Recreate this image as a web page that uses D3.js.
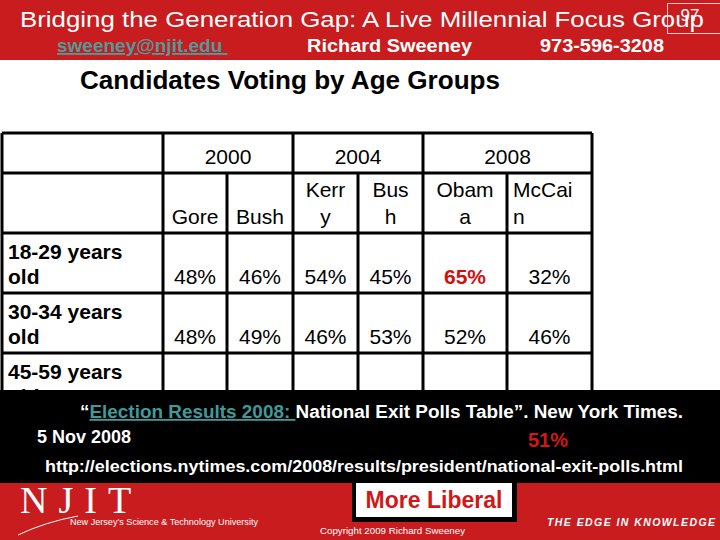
<!DOCTYPE html>
<html><head><meta charset="utf-8">
<script src="https://cdn.jsdelivr.net/npm/d3@7"></script>
<style>body{margin:0;background:#fff}svg{display:block;font-family:"Liberation Sans",Arial,sans-serif}</style>
</head><body>
<script>
// ---- data ----
const years = ["2000", "2004", "2008"];
const candidates = ["Gore", "Bush 2000", "Kerry", "Bush 2004", "Obama", "McCain"];
const candidateYear = ["2000", "2000", "2004", "2004", "2008", "2008"];
const candidateLabels = [["", "Gore"], ["", "Bush"], ["Kerr", "y"], ["Bus", "h"], ["Obam", "a"], ["McCai", "n"]];
const ageGroups = ["18-29 years old", "30-34 years old", "45-59 years old"];
const ageLabels = [["18-29 years", "old"], ["30-34 years", "old"], ["45-59 years", "old"]];
const gore = [48, 48, 48];
const bush2000 = [46, 49, 49];
const kerry = [54, 46, 47];
const bush2004 = [45, 53, 51];
const obama = [65, 52, 50];
const mccain = [32, 46, 49];
const seriesValues = [gore, bush2000, kerry, bush2004, obama, mccain];

// ---- layout ----
const W = 720, H = 540, RED = "#c81c1e";
const svg = d3.select("body").append("svg").attr("width", W).attr("height", H);
svg.append("defs").append("clipPath").attr("id", "tclip")
  .append("rect").attr("x", 0).attr("y", 0).attr("width", W).attr("height", 391);

// header band
svg.append("rect").attr("x", 0).attr("y", 0).attr("width", W).attr("height", 60).attr("fill", RED);
svg.append("text").attr("x", 20).attr("y", 27).attr("fill", "#fff").attr("font-size", 22)
  .attr("textLength", 684).attr("lengthAdjust", "spacingAndGlyphs")
  .text("Bridging the Generation Gap: A Live Millennial Focus Group");
svg.append("rect").attr("x", 667.5).attr("y", 3.5).attr("width", 60).attr("height", 30)
  .attr("fill", "none").attr("stroke", "#f0d0d0").attr("stroke-width", 1);
svg.append("text").attr("x", 690).attr("y", 21).attr("text-anchor", "middle").attr("fill", "#fff")
  .attr("font-size", 17).text("97");
svg.append("text").attr("x", 57).attr("y", 52).attr("fill", "#4f9a9a").attr("font-size", 19)
  .attr("font-weight", "bold").attr("text-decoration", "underline").text("sweeney@njit.edu\u00a0");
svg.append("text").attr("x", 307).attr("y", 52).attr("fill", "#fff").attr("font-size", 19)
  .attr("font-weight", "bold").attr("textLength", 165).attr("lengthAdjust", "spacingAndGlyphs").text("Richard Sweeney");
svg.append("text").attr("x", 540).attr("y", 52).attr("fill", "#fff").attr("font-size", 19)
  .attr("font-weight", "bold").attr("textLength", 124).attr("lengthAdjust", "spacingAndGlyphs").text("973-596-3208");

// title
svg.append("text").attr("x", 80).attr("y", 89).attr("fill", "#000").attr("font-size", 25)
  .attr("font-weight", "bold").attr("textLength", 420).attr("lengthAdjust", "spacingAndGlyphs")
  .text("Candidates Voting by Age Groups");

// ---- table via scales ----
const colLeft = d3.scaleOrdinal().domain(candidates).range([163, 227, 293, 358, 423, 507]);
const colRight = d3.scaleOrdinal().domain(candidates).range([227, 293, 358, 423, 507, 592]);
const yearLeft = d3.scaleOrdinal().domain(years).range([163, 293, 423]);
const yearRight = d3.scaleOrdinal().domain(years).range([293, 423, 592]);
const rowY = d3.scaleBand().domain(ageGroups).range([233, 413]).padding(0);
const tLeft = 2, tRight = 592, hTop = 133, hMid = 173, hBot = 233;
const FS = 21;

const tbl = svg.append("g").attr("clip-path", "url(#tclip)");
// row labels
ageGroups.forEach((g, i) => {
  const y0 = rowY(g);
  tbl.append("text").attr("x", 8).attr("y", y0 + 26).attr("font-size", FS).attr("font-weight", "bold").text(ageLabels[i][0]);
  tbl.append("text").attr("x", 8).attr("y", y0 + 51).attr("font-size", FS).attr("font-weight", "bold").text(ageLabels[i][1]);
});
// year headers
years.forEach(yr => {
  tbl.append("text").attr("x", (yearLeft(yr) + yearRight(yr)) / 2).attr("y", hTop + 31)
    .attr("text-anchor", "middle").attr("font-size", FS).text(yr);
});
// candidate headers
candidates.forEach((c, i) => {
  const last = i === candidates.length - 1;
  const x = last ? colLeft(c) + 6 : (colLeft(c) + colRight(c)) / 2;
  const anchor = last ? "start" : "middle";
  candidateLabels[i].forEach((line, k) => {
    if (!line) return;
    tbl.append("text").attr("x", x).attr("y", hMid + 24 + k * 27).attr("text-anchor", anchor)
      .attr("font-size", FS).text(line);
  });
});
// values
candidates.forEach((c, i) => {
  seriesValues[i].forEach((v, r) => {
    const isHi = c === "Obama" && r === 0;
    tbl.append("text").attr("x", (colLeft(c) + colRight(c)) / 2).attr("y", rowY(ageGroups[r]) + 51)
      .attr("text-anchor", "middle").attr("font-size", FS)
      .attr("font-weight", isHi ? "bold" : "normal")
      .attr("fill", isHi ? "#d01010" : "#000").text(v + "%");
  });
});
// grid lines
const gl = tbl.append("g").attr("stroke", "#000").attr("stroke-width", 3);
const bottom = rowY(ageGroups[ageGroups.length - 1]) + rowY.bandwidth();
[hTop, hMid, hBot].concat(ageGroups.map(g => rowY(g) + rowY.bandwidth())).forEach(y => {
  gl.append("line").attr("x1", tLeft).attr("x2", tRight).attr("y1", y).attr("y2", y);
});
gl.append("line").attr("x1", tLeft).attr("x2", tLeft).attr("y1", hTop).attr("y2", bottom);
years.forEach(yr => gl.append("line").attr("x1", yearLeft(yr)).attr("x2", yearLeft(yr)).attr("y1", hTop).attr("y2", bottom));
gl.append("line").attr("x1", tRight).attr("x2", tRight).attr("y1", hTop).attr("y2", bottom);
candidates.forEach((c, i) => {
  if (i % 2 === 1) gl.append("line").attr("x1", colLeft(c)).attr("x2", colLeft(c)).attr("y1", hMid).attr("y2", bottom);
});

// ---- black citation box ----
svg.append("rect").attr("x", 0).attr("y", 390).attr("width", W).attr("height", 93).attr("fill", "#000");
const cite = svg.append("text").attr("x", 80).attr("y", 418).attr("font-size", 18).attr("font-weight", "bold")
  .attr("fill", "#fff").attr("textLength", 603).attr("lengthAdjust", "spacingAndGlyphs");
cite.append("tspan").text("\u201c");
cite.append("tspan").attr("fill", "#3f9a9a").attr("text-decoration", "underline").text("Election Results 2008: ");
cite.append("tspan").text("National Exit Polls Table\u201d.  New York Times.");
svg.append("text").attr("x", 37).attr("y", 443).attr("font-size", 18).attr("font-weight", "bold")
  .attr("fill", "#fff").text("5 Nov 2008");
svg.append("text").attr("x", 548).attr("y", 447).attr("font-size", 20).attr("font-weight", "bold")
  .attr("text-anchor", "middle").attr("fill", "#d01818").text("51%");
svg.append("text").attr("x", 45).attr("y", 472).attr("font-size", 17).attr("font-weight", "bold")
  .attr("fill", "#fff").attr("textLength", 638).attr("lengthAdjust", "spacingAndGlyphs")
  .text("http://elections.nytimes.com/2008/results/president/national-exit-polls.html");

// ---- footer ----
svg.append("rect").attr("x", 0).attr("y", 483).attr("width", W).attr("height", 57).attr("fill", RED);
svg.append("text").attr("x", 20).attr("y", 513).attr("font-family", "Liberation Serif, serif").attr("font-size", 38)
  .attr("fill", "#fff").attr("letter-spacing", 11).text("NJIT");
svg.append("path").attr("d", "M18,535 Q45,522 78,516").attr("fill", "none").attr("stroke", "#fff").attr("stroke-width", 1);
svg.append("text").attr("x", 70).attr("y", 525).attr("font-size", 9.5).attr("fill", "#fff")
  .attr("textLength", 188).attr("lengthAdjust", "spacingAndGlyphs").text("New Jersey\u2019s Science & Technology University");
svg.append("text").attr("x", 547).attr("y", 526).attr("font-size", 10.5).attr("font-weight", "bold").attr("font-style", "italic")
  .attr("fill", "#fff").attr("textLength", 168).attr("lengthAdjust", "spacing").text("THE EDGE IN KNOWLEDGE");
svg.append("text").attr("x", 320).attr("y", 534).attr("font-size", 9.5).attr("fill", "#fff")
  .attr("textLength", 145).attr("lengthAdjust", "spacingAndGlyphs").text("Copyright  2009 Richard Sweeney");
svg.append("rect").attr("x", 352).attr("y", 480).attr("width", 165).attr("height", 42).attr("fill", "#000");
svg.append("rect").attr("x", 356).attr("y", 483).attr("width", 156).attr("height", 34).attr("fill", "#fff");
svg.append("text").attr("x", 434).attr("y", 508).attr("font-size", 23).attr("font-weight", "bold")
  .attr("text-anchor", "middle").attr("fill", "#d01818").text("More Liberal");
</script>
</body></html>
